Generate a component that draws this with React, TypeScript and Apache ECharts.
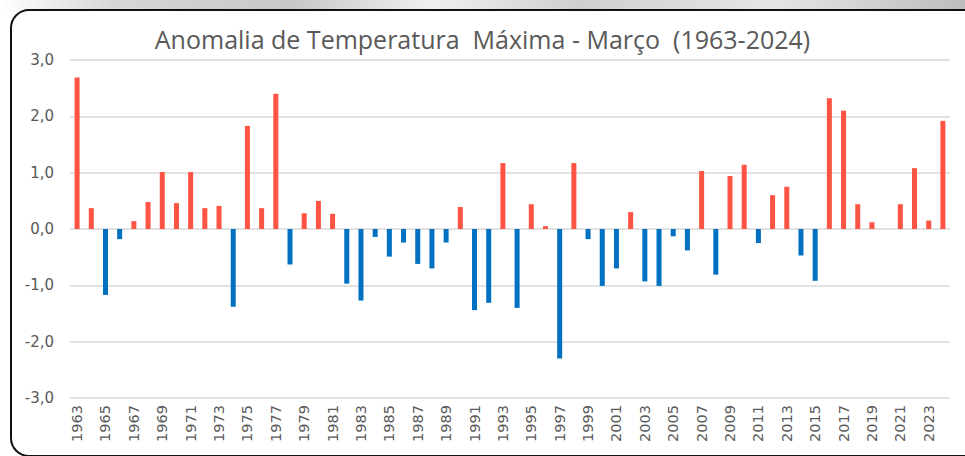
import React, { useEffect, useRef } from "react";
import * as echarts from "echarts";

const years: string[] = [];
for (let y = 1963; y <= 2024; y++) years.push(String(y));

const anomalies: number[] = [
  2.69, 0.37, -1.17, -0.18, 0.14, 0.48, 1.01, 0.46, 1.01, 0.37,
  0.41, -1.38, 1.83, 0.37, 2.40, -0.63, 0.28, 0.50, 0.27, -0.97,
  -1.27, -0.14, -0.49, -0.24, -0.62, -0.70, -0.24, 0.39, -1.44, -1.31,
  1.17, -1.40, 0.44, 0.05, -2.30, 1.17, -0.18, -1.01, -0.70, 0.30,
  -0.93, -1.01, -0.13, -0.38, 1.03, -0.81, 0.94, 1.14, -0.25, 0.60,
  0.75, -0.47, -0.92, 2.32, 2.10, 0.44, 0.12, 0.0, 0.44, 1.08,
  0.15, 1.92,
];

const titleText = "Anomalia de Temperatura  Máxima - Março  (1963-2024)";

export default function App() {
  const ref = useRef<HTMLDivElement>(null);
  useEffect(() => {
    if (!ref.current) return;
    const chart = echarts.init(ref.current, null, { renderer: "svg" });
    chart.setOption({
      animation: false,
      backgroundColor: "#ffffff",
      graphic: [
        {
          type: "rect",
          left: 0,
          top: 0,
          shape: { width: 965, height: 12 },
          style: {
            fill: new echarts.graphic.LinearGradient(0, 0, 1, 0, [
              { offset: 0, color: "#ffffff" },
              { offset: 0.12, color: "#d6d6d6" },
              { offset: 0.3, color: "#c8c8c8" },
              { offset: 0.45, color: "#efefef" },
              { offset: 0.6, color: "#cfcfcf" },
              { offset: 0.8, color: "#e6e6e6" },
              { offset: 1, color: "#bdbdbd" },
            ]),
          },
          z: 0,
        },
        {
          type: "rect",
          shape: { x: 11, y: 10, width: 970, height: 446, r: 18 },
          style: { fill: "#ffffff", stroke: "#111111", lineWidth: 2 },
          z: 0,
          zlevel: 0,
        },
      ],
      title: {
        text: titleText,
        left: "center",
        top: 21,
        textStyle: {
          fontFamily: "Open Sans",
          fontWeight: "normal",
          fontSize: 25,
          color: "#595959",
        },
        z: 10,
      },
      grid: { left: 70, right: 15, top: 60, bottom: 58, containLabel: false, z: 5 },
      xAxis: {
        type: "category",
        data: years,
        z: 5,
        axisLine: { show: false, onZero: false },
        axisTick: { show: false },
        axisLabel: {
          interval: 1,
          rotate: 90,
          margin: 7,
          color: "#595959",
          fontFamily: "DejaVu Sans",
          fontSize: 14.5,
        },
        splitLine: { show: false },
      },
      yAxis: {
        type: "value",
        min: -3,
        max: 3,
        interval: 1,
        z: 5,
        axisLine: { show: false },
        axisTick: { show: false },
        axisLabel: {
          color: "#595959",
          fontFamily: "DejaVu Sans",
          fontSize: 15,
          margin: 16,
          formatter: (v: number) => v.toFixed(1).replace(".", ","),
        },
        splitLine: { lineStyle: { color: "#d9d9d9", width: 1.5 } },
      },
      series: [
        {
          type: "bar",
          data: anomalies,
          barWidth: 5,
          itemStyle: {
            color: (p: any) => (p.value >= 0 ? "#ff5343" : "#0070c0"),
          },
          z: 6,
        },
      ],
    });
    return () => chart.dispose();
  }, []);
  return <div ref={ref} style={{ width: 965, height: 456, position: "absolute", left: 0, top: 0 }} />;
}
